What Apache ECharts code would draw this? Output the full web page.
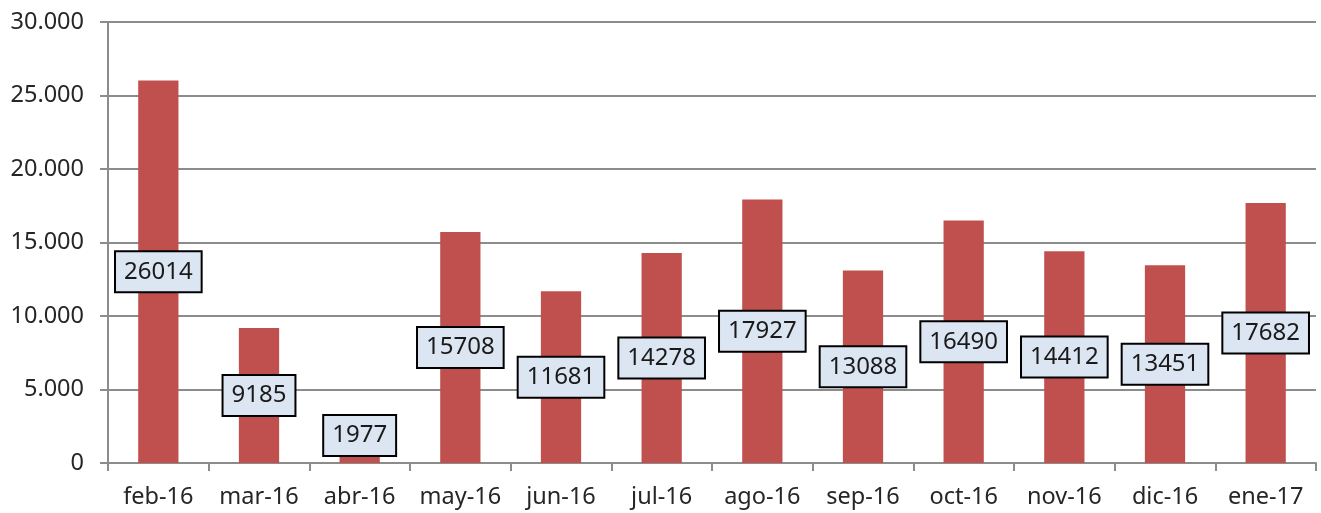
<!DOCTYPE html>
<html>
<head>
<meta charset="utf-8">
<script src="https://cdn.jsdelivr.net/npm/echarts@6/dist/echarts.min.js"></script>
<style>
  html, body { margin: 0; padding: 0; background: #fff; }
  #chart { width: 1321px; height: 513px; }
</style>
</head>
<body>
<div id="chart"></div>
<script>
const months = ['feb-16', 'mar-16', 'abr-16', 'may-16', 'jun-16', 'jul-16',
                'ago-16', 'sep-16', 'oct-16', 'nov-16', 'dic-16', 'ene-17'];
const values = [26014, 9185, 1977, 15708, 11681, 14278,
                17927, 13088, 16490, 14412, 13451, 17682];

const axisGray = '#8c8c8c';
const chart = echarts.init(document.getElementById('chart'), null, { renderer: 'canvas' });

// small bars: Excel pushes the label up so the box stays above the axis
const barData = values.map(v => v < 5000
  ? { value: v, label: { offset: [0, -13] } }
  : v);

chart.setOption({
  backgroundColor: '#ffffff',
  animation: false,
  grid: { left: 108, right: 5, top: 22, bottom: 50 },
  xAxis: {
    type: 'category',
    data: months,
    axisLine: { lineStyle: { color: axisGray, width: 2 } },
    axisTick: { show: true, interval: 0, length: 8, lineStyle: { color: axisGray, width: 2 } },
    axisLabel: { interval: 0, color: '#262626', fontSize: 23.5, fontFamily: 'Noto Sans', margin: 22 },
  },
  yAxis: {
    type: 'value',
    min: 0,
    max: 30000,
    interval: 5000,
    axisLine: { show: true, lineStyle: { color: axisGray, width: 2 } },
    axisTick: { show: true, length: 8, lineStyle: { color: axisGray, width: 2 } },
    splitLine: { lineStyle: { color: axisGray, width: 2 } },
    axisLabel: {
      color: '#262626',
      fontSize: 23.5,
      fontFamily: 'Noto Sans',
      margin: 24,
      formatter: v => v === 0 ? '0' : v.toLocaleString('de-DE'),
    },
  },
  series: [{
    type: 'bar',
    data: barData,
    barWidth: '40%',
    itemStyle: { color: '#c0504d' },
    label: {
      show: true,
      position: 'inside',
      color: '#1a1a1a',
      fontSize: 24,
      fontFamily: 'Noto Sans',
      backgroundColor: '#dce6f2',
      borderColor: '#000000',
      borderWidth: 2,
      padding: [9, 8, 6, 8],
    },
  }],
});
</script>
</body>
</html>
